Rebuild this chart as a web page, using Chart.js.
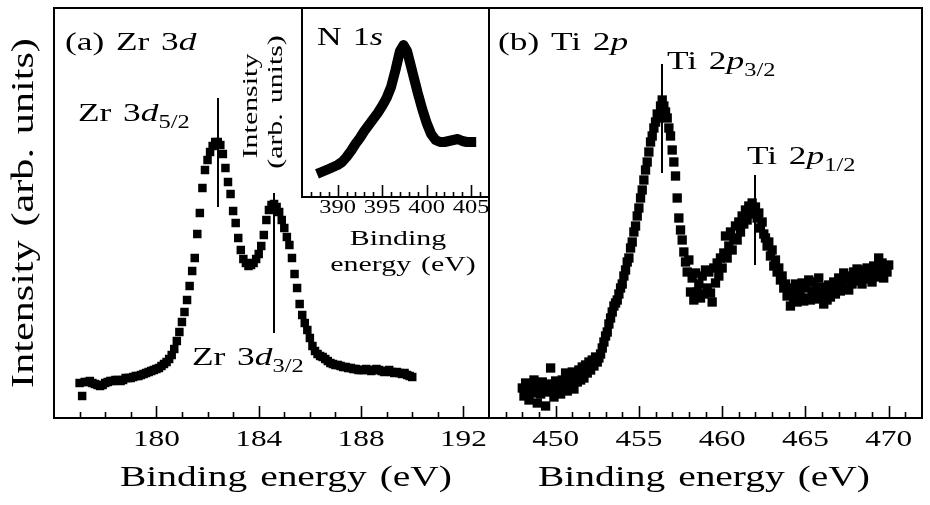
<!DOCTYPE html>
<html>
<head>
<meta charset="utf-8">
<script src="https://cdn.jsdelivr.net/npm/chart.js@4.4.1/dist/chart.umd.min.js"></script>
<style>
  html, body { margin: 0; padding: 0; background: #fff; }
  #wrap { position: relative; width: 930px; height: 505px; }
  #wrap canvas { position: absolute; left: 0; top: 0; }
</style>
</head>
<body>
<div id="wrap">
  <canvas id="zr" width="930" height="505"></canvas>
  <canvas id="ti" width="930" height="505"></canvas>
  <canvas id="n1s" width="930" height="505"></canvas>
</div>
<script>
// ---- data (intensity in arbitrary units) ----

// (a) Zr 3d
const zrEnergy = [
  177.0, 177.1, 177.2, 177.3, 177.4, 177.5, 177.6, 177.7, 177.8, 177.9,
  178.0, 178.1, 178.2, 178.3, 178.4, 178.5, 178.6, 178.7, 178.8, 178.9,
  179.0, 179.1, 179.2, 179.3, 179.4, 179.5, 179.6, 179.7, 179.8, 179.9,
  180.0, 180.1, 180.2, 180.3, 180.4, 180.5, 180.6, 180.7, 180.8, 180.9,
  181.0, 181.1, 181.2, 181.3, 181.4, 181.5, 181.6, 181.7, 181.8, 181.9,
  182.0, 182.1, 182.2, 182.3, 182.4, 182.5, 182.6, 182.7, 182.8, 182.9,
  183.0, 183.1, 183.2, 183.3, 183.4, 183.5, 183.6, 183.7, 183.8, 183.9,
  184.0, 184.1, 184.2, 184.3, 184.4, 184.5, 184.6, 184.7, 184.8, 184.9,
  185.0, 185.1, 185.2, 185.3, 185.4, 185.5, 185.6, 185.7, 185.8, 185.9,
  186.0, 186.1, 186.2, 186.3, 186.4, 186.5, 186.6, 186.7, 186.8, 186.9,
  187.0, 187.1, 187.2, 187.3, 187.4, 187.5, 187.6, 187.7, 187.8, 187.9,
  188.0, 188.1, 188.2, 188.3, 188.4, 188.5, 188.6, 188.7, 188.8, 188.9,
  189.0, 189.1, 189.2, 189.3, 189.4, 189.5, 189.6, 189.7, 189.8, 189.9,
  190.0
];
const zrCounts = [
  35, 22, 36, 36, 37, 35, 34, 33, 32, 33,
  35, 36, 37, 37, 38, 38, 37, 38, 40, 40,
  40, 41, 42, 42, 43, 44, 45, 46, 47, 48,
  49, 50, 52, 54, 56, 59, 63, 69, 77, 86,
  96, 106, 118, 132, 147, 160, 184, 205, 230, 248,
  258, 266, 272, 276, 276, 273, 264, 250, 236, 224,
  207, 195, 180, 168, 159, 155, 152, 153, 155, 159,
  164, 172, 183, 198, 208, 213, 214, 211, 206, 198,
  190, 181, 173, 160, 144, 130, 114, 103, 95, 88,
  80, 72, 67, 64, 62, 61, 59, 57, 55, 54,
  53, 53, 52, 51, 51, 50, 50, 49, 49, 48,
  48, 48, 49, 48, 47, 48, 49, 48, 47, 46,
  47, 48, 46, 45, 46, 45, 44, 45, 43, 42,
  41
];

// (b) Ti 2p
const tiEnergy = [
  448.0, 448.1, 448.2, 448.3, 448.4, 448.5, 448.6, 448.7, 448.8, 448.9,
  449.0, 449.1, 449.2, 449.3, 449.4, 449.5, 449.6, 449.7, 449.8, 449.9,
  450.0, 450.1, 450.2, 450.3, 450.4, 450.5, 450.6, 450.7, 450.8, 450.9,
  451.0, 451.1, 451.2, 451.3, 451.4, 451.5, 451.6, 451.7, 451.8, 451.9,
  452.0, 452.1, 452.2, 452.3, 452.4, 452.5, 452.6, 452.7, 452.8, 452.9,
  453.0, 453.1, 453.2, 453.3, 453.4, 453.5, 453.6, 453.7, 453.8, 453.9,
  454.0, 454.1, 454.2, 454.3, 454.4, 454.5, 454.6, 454.7, 454.8, 454.9,
  455.0, 455.1, 455.2, 455.3, 455.4, 455.5, 455.6, 455.7, 455.8, 455.9,
  456.0, 456.1, 456.2, 456.3, 456.4, 456.5, 456.6, 456.7, 456.8, 456.9,
  457.0, 457.1, 457.2, 457.3, 457.4, 457.5, 457.6, 457.7, 457.8, 457.9,
  458.0, 458.1, 458.2, 458.3, 458.4, 458.5, 458.6, 458.7, 458.8, 458.9,
  459.0, 459.1, 459.2, 459.3, 459.4, 459.5, 459.6, 459.7, 459.8, 459.9,
  460.0, 460.1, 460.2, 460.3, 460.4, 460.5, 460.6, 460.7, 460.8, 460.9,
  461.0, 461.1, 461.2, 461.3, 461.4, 461.5, 461.6, 461.7, 461.8, 461.9,
  462.0, 462.1, 462.2, 462.3, 462.4, 462.5, 462.6, 462.7, 462.8, 462.9,
  463.0, 463.1, 463.2, 463.3, 463.4, 463.5, 463.6, 463.7, 463.8, 463.9,
  464.0, 464.1, 464.2, 464.3, 464.4, 464.5, 464.6, 464.7, 464.8, 464.9,
  465.0, 465.1, 465.2, 465.3, 465.4, 465.5, 465.6, 465.7, 465.8, 465.9,
  466.0, 466.1, 466.2, 466.3, 466.4, 466.5, 466.6, 466.7, 466.8, 466.9,
  467.0, 467.1, 467.2, 467.3, 467.4, 467.5, 467.6, 467.7, 467.8, 467.9,
  468.0, 468.1, 468.2, 468.3, 468.4, 468.5, 468.6, 468.7, 468.8, 468.9,
  469.0, 469.1, 469.2, 469.3, 469.4, 469.5, 469.6, 469.7, 469.8, 469.9,
  470.0
];
const tiCounts = [
  30, 22, 35, 27, 18, 33, 25, 38, 29, 15,
  32, 24, 36, 28, 12, 34, 26, 50, 30, 21,
  37, 28, 33, 24, 38, 30, 45, 27, 40, 33,
  46, 29, 42, 36, 48, 38, 51, 40, 53, 45,
  56, 48, 58, 52, 61, 56, 60, 64, 70, 76,
  82, 86, 94, 100, 106, 112, 115, 118, 124, 130,
  134, 142, 148, 156, 160, 170, 176, 186, 192, 202,
  210, 220, 228, 238, 248, 256, 266, 276, 282, 290,
  296, 304, 300, 312, 318, 312, 306, 300, 290, 282,
  268, 256, 242, 220, 200, 188, 178, 166, 156, 146,
  158, 126, 140, 118, 145, 126, 134, 120, 142, 124,
  148, 130, 146, 125, 116, 150, 135, 155, 142, 160,
  150, 165, 182, 160, 172, 186, 168, 180, 192, 178,
  196, 186, 202, 194, 208, 198, 212, 204, 215, 206,
  211, 200, 205, 190, 196, 184, 180, 172, 176, 162,
  168, 152, 158, 146, 150, 138, 142, 130, 134, 122,
  130, 112, 126, 118, 134, 116, 128, 121, 135, 117,
  130, 120, 138, 118, 127, 136, 119, 130, 140, 122,
  131, 114, 126, 118, 133, 121, 128, 136, 124, 131,
  140, 127, 136, 145, 130, 139, 128, 142, 134, 146,
  137, 149, 138, 144, 134, 148, 140, 150, 139, 145,
  136, 152, 141, 148, 160, 143, 155, 140, 150, 146,
  153
];

// inset: N 1s
const n1sEnergy = [388.2, 389.0, 390.0, 390.5, 391.0, 391.5, 392.0, 392.5, 393.0, 393.5,
  394.0, 394.5, 395.0, 395.5, 396.0, 396.5, 397.0, 397.4, 397.8, 398.2,
  398.6, 399.0, 399.5, 400.0, 400.5, 401.0, 401.5, 402.0, 402.5, 403.0,
  403.5, 404.0, 404.5, 405.0];
const n1sCounts = [25, 28, 32, 35, 40, 46, 53, 59, 66, 72,
  78, 84, 91, 99, 110, 127, 146, 152, 146, 132,
  118, 104, 88, 74, 63, 57, 55, 55, 56, 57,
  58, 56, 55, 55];

// axis ticks
const zrMajorTicks = [180, 184, 188, 192];
const zrMinorTicks = [177, 178, 179, 181, 182, 183, 185, 186, 187, 189, 190, 191];
const zrTickLabels = ['180', '184', '188', '192'];
const tiMajorTicks = [450, 455, 460, 465, 470];
const tiMinorTicks = [447, 448, 449, 451, 452, 453, 454, 456, 457, 458, 459,
  461, 462, 463, 464, 466, 467, 468, 469, 471];
const tiTickLabels = ['450', '455', '460', '465', '470'];
const n1sMajorTicks = [390, 395, 400, 405];
const n1sMinorTicks = [387, 388, 389, 391, 392, 393, 394, 396, 397, 398, 399,
  401, 402, 403, 404, 406];
const n1sTickLabels = ['390', '395', '400', '405'];

// peak markers: [energy, lower end, upper end]
const zrMarkers = [[182.4, 211, 320], [184.6, 85, 225]];
const tiMarkers = [[456.4, 245, 354], [462.0, 153, 243]];

// ---- text helpers ----
const SX = 1.36; // the original glyphs are wide, stretch Times to match
const SERIF = '"Liberation Serif", "Times New Roman", serif';

// '*' toggles italic, '_' toggles subscript, ' ' is a wide gap
function parseRuns(str) {
  const runs = [];
  let it = false, sub = false, buf = '';
  const flush = () => { if (buf) runs.push({ t: buf, it, sub }); buf = ''; };
  for (const ch of str) {
    if (ch === '*') { flush(); it = !it; }
    else if (ch === '_') { flush(); sub = !sub; }
    else if (ch === ' ') { flush(); runs.push({ gap: 0.33 }); }
    else buf += ch;
  }
  flush();
  return runs;
}

function runFont(r, size) {
  const s = r.sub ? Math.round(size * 0.7) : size;
  return (r.it ? 'italic ' : '') + s + 'px ' + SERIF;
}

function drawLabel(ctx, str, x, y, size, align, angle) {
  const runs = parseRuns(str);
  ctx.save();
  ctx.translate(x, y);
  if (angle) ctx.rotate(angle);
  ctx.scale(SX, 1);
  ctx.fillStyle = '#000';
  ctx.textAlign = 'left';
  ctx.textBaseline = 'alphabetic';
  let w = 0;
  runs.forEach(r => {
    if (r.gap) { w += r.gap * size; return; }
    ctx.font = runFont(r, size);
    w += ctx.measureText(r.t).width;
  });
  let cx = align === 'center' ? -w / 2 : 0;
  runs.forEach(r => {
    if (r.gap) { cx += r.gap * size; return; }
    ctx.font = runFont(r, size);
    ctx.fillText(r.t, cx, r.sub ? size * 0.25 : 0);
    cx += ctx.measureText(r.t).width;
  });
  ctx.restore();
}

// frame, inward ticks, tick labels and extra text for one panel
function decorPlugin(cfg) {
  return {
    id: 'decor',
    beforeDatasetsDraw(chart) {
      if (!cfg.whiteFill) return;
      const a = chart.chartArea;
      chart.ctx.save();
      chart.ctx.fillStyle = '#fff';
      chart.ctx.fillRect(a.left, a.top, a.right - a.left, a.bottom - a.top);
      chart.ctx.restore();
    },
    afterDraw(chart) {
      const ctx = chart.ctx;
      const a = chart.chartArea;
      const xs = chart.scales.x;
      const ys = chart.scales.y;
      ctx.save();
      ctx.strokeStyle = '#000';

      // peak marker lines
      ctx.lineWidth = 2;
      (cfg.markers || []).forEach(m => {
        const px = Math.round(xs.getPixelForValue(m[0]));
        ctx.beginPath();
        ctx.moveTo(px, ys.getPixelForValue(m[1]));
        ctx.lineTo(px, ys.getPixelForValue(m[2]));
        ctx.stroke();
      });

      // ticks pointing into the plot
      ctx.lineWidth = 1.6;
      const tick = (v, len) => {
        const px = Math.round(xs.getPixelForValue(v)) + 0.5;
        ctx.beginPath();
        ctx.moveTo(px, a.bottom);
        ctx.lineTo(px, a.bottom - len);
        ctx.stroke();
      };
      cfg.minors.forEach(v => tick(v, cfg.minorLen));
      cfg.majors.forEach(v => tick(v, cfg.majorLen));

      // frame
      ctx.lineWidth = 2;
      ctx.strokeRect(a.left, a.top, a.right - a.left, a.bottom - a.top);
      ctx.restore();

      cfg.majors.forEach((v, i) => {
        drawLabel(ctx, cfg.labels[i], xs.getPixelForValue(v), cfg.labelBase, cfg.tickFont, 'center');
      });
      cfg.text(ctx);
    }
  };
}

function makeChart(id, energy, counts, xMin, xMax, yMax, padding, dsStyle, cfg) {
  const points = energy.map((e, i) => ({ x: e, y: counts[i] }));
  return new Chart(document.getElementById(id), {
    type: 'scatter',
    data: {
      datasets: [Object.assign({ data: points, backgroundColor: '#000', borderColor: '#000' }, dsStyle)]
    },
    options: {
      responsive: false,
      animation: false,
      events: [],
      layout: { padding: padding },
      plugins: { legend: { display: false }, tooltip: { enabled: false } },
      scales: {
        x: { type: 'linear', min: xMin, max: xMax, display: false },
        y: { type: 'linear', min: 0, max: yMax, display: false }
      }
    },
    plugins: [decorPlugin(cfg)]
  });
}

const squares = { pointStyle: 'rect', pointRadius: 6, borderWidth: 0 };

// (a) Zr 3d
makeChart('zr', zrEnergy, zrCounts, 176, 193, 410,
  { left: 54, top: 8, right: 441, bottom: 87 }, squares, {
    majors: zrMajorTicks, minors: zrMinorTicks, labels: zrTickLabels,
    tickFont: 23, labelBase: 446, majorLen: 12, minorLen: 6,
    markers: zrMarkers,
    text(ctx) {
      drawLabel(ctx, 'Binding energy (eV)', 286, 486, 29, 'center');
      drawLabel(ctx, 'Intensity (arb. units)', 33, 213, 31, 'center', -Math.PI / 2);
      drawLabel(ctx, '(a) Zr 3*d*', 65, 50, 26);
      drawLabel(ctx, 'Zr 3*d*_5/2_', 78, 121, 26);
      drawLabel(ctx, 'Zr 3*d*_3/2_', 192, 365, 26);
    }
  });

// (b) Ti 2p
makeChart('ti', tiEnergy, tiCounts, 446, 472, 410,
  { left: 489, top: 8, right: 8, bottom: 87 }, Object.assign({}, squares, { pointRadius: 6.6 }), {
    majors: tiMajorTicks, minors: tiMinorTicks, labels: tiTickLabels,
    tickFont: 23, labelBase: 446, majorLen: 12, minorLen: 6,
    markers: tiMarkers,
    text(ctx) {
      drawLabel(ctx, 'Binding energy (eV)', 704, 486, 29, 'center');
      drawLabel(ctx, '(b) Ti 2*p*', 498, 50, 26);
      drawLabel(ctx, 'Ti 2*p*_3/2_', 667, 69, 26);
      drawLabel(ctx, 'Ti 2*p*_1/2_', 747, 164, 26);
    }
  });

// inset N 1s
makeChart('n1s', n1sEnergy, n1sCounts, 386, 407, 189,
  { left: 302, top: 8, right: 441, bottom: 308 },
  { showLine: true, pointRadius: 0, borderWidth: 10, borderCapStyle: 'square', borderJoinStyle: 'round', tension: 0 }, {
    whiteFill: true,
    majors: n1sMajorTicks, minors: n1sMinorTicks, labels: n1sTickLabels,
    tickFont: 18, labelBase: 213, majorLen: 12, minorLen: 5,
    text(ctx) {
      drawLabel(ctx, 'N 1*s*', 317, 45, 25);
      drawLabel(ctx, 'Binding', 398, 245, 22, 'center');
      drawLabel(ctx, 'energy (eV)', 403, 271, 22, 'center');
      drawLabel(ctx, 'Intensity', 257, 106, 22, 'center', -Math.PI / 2);
      drawLabel(ctx, '(arb. units)', 282, 102, 22, 'center', -Math.PI / 2);
    }
  });
</script>
</body>
</html>
